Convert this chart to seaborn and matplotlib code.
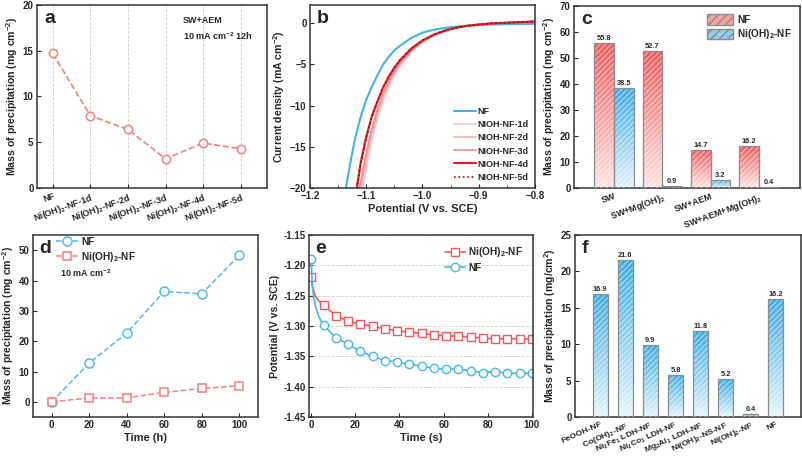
import numpy as np
import pandas as pd
import seaborn as sns
import matplotlib.pyplot as plt
from matplotlib.colors import LinearSegmentedColormap
from matplotlib.patches import Rectangle, Patch

# ---- data -------------------------------------------------------------
# (a) precipitation vs growth time, SW+AEM
a_samples = ['NF', r'Ni(OH)$_2$-NF-1d', r'Ni(OH)$_2$-NF-2d', r'Ni(OH)$_2$-NF-3d',
             r'Ni(OH)$_2$-NF-4d', r'Ni(OH)$_2$-NF-5d']
a_mass = [14.7, 7.9, 6.4, 3.2, 4.9, 4.3]

# (b) LSV curves
b_potential = [-1.14, -1.13, -1.12, -1.11, -1.10, -1.09, -1.08, -1.07, -1.06, -1.05,
               -1.04, -1.02, -1.00, -0.98, -0.96, -0.94, -0.92, -0.90, -0.88, -0.85, -0.80]
b_nf = [-21.5, -17.6, -14.0, -11.4, -9.3, -7.7, -6.3, -5.0, -4.1, -3.3,
        -2.75, -1.8, -1.15, -0.8, -0.58, -0.42, -0.3, -0.22, -0.17, -0.12, -0.08]
b_1d = [-30.0, -27.0, -24.0, -21.5, -17.6, -14.2, -11.5, -9.4, -7.7, -6.3,
        -5.2, -3.5, -2.3, -1.5, -0.95, -0.58, -0.33, -0.17, -0.05, 0.05, 0.2]
b_2d = [-29.0, -26.0, -23.0, -20.2, -16.6, -13.4, -10.9, -8.9, -7.3, -6.0,
        -5.0, -3.4, -2.25, -1.45, -0.93, -0.57, -0.32, -0.17, -0.05, 0.05, 0.2]
b_3d = [-28.5, -25.5, -22.5, -19.3, -15.8, -12.8, -10.4, -8.5, -7.0, -5.8,
        -4.8, -3.3, -2.2, -1.42, -0.92, -0.56, -0.32, -0.17, -0.05, 0.05, 0.2]
b_4d = [-28.0, -25.0, -21.5, -17.0, -13.8, -11.3, -9.5, -7.8, -6.5, -5.4,
        -4.5, -3.1, -2.1, -1.4, -0.9, -0.55, -0.32, -0.17, -0.05, 0.05, 0.2]
b_5d = b_4d
b_names = ['NF', 'NIOH-NF-1d', 'NIOH-NF-2d', 'NIOH-NF-3d', 'NIOH-NF-4d', 'NIOH-NF-5d']

# (c) precipitation in different electrolytes
c_conditions = ['SW', r'SW+Mg(OH)$_2$', 'SW+AEM', r'SW+AEM+Mg(OH)$_2$']
c_nf = [55.8, 52.7, 14.7, 16.2]
c_nioh = [38.5, 0.9, 3.2, 0.4]
c_groups = ['NF', r'Ni(OH)$_2$-NF']

# (d) precipitation vs time
d_time = [0, 20, 40, 60, 80, 100]
d_nf = [0.0, 12.8, 22.7, 36.4, 35.6, 48.3]
d_nioh = [0.0, 1.3, 1.3, 3.1, 4.4, 5.3]

# (e) chronopotentiometry
e_time = [0, 0.4, 1, 2, 3.5, 5.6, 11.1, 16.7, 22.2, 27.8, 33.3, 38.9, 44.4, 50.0,
          55.6, 61.1, 66.7, 72.2, 77.8, 83.3, 88.9, 94.4, 100]
e_nioh = [-1.219, -1.232, -1.242, -1.251, -1.259, -1.265, -1.283, -1.292, -1.297, -1.300,
          -1.305, -1.308, -1.310, -1.312, -1.315, -1.316, -1.317, -1.318, -1.320,
          -1.321, -1.321, -1.321, -1.322]
e_nf = [-1.190, -1.228, -1.250, -1.268, -1.285, -1.299, -1.319, -1.330, -1.342, -1.350,
        -1.357, -1.359, -1.363, -1.366, -1.370, -1.371, -1.371, -1.374, -1.377,
        -1.375, -1.378, -1.378, -1.378]
e_marks = [0] + list(range(5, 23))

# (f) different electrodes
f_electrodes = ['FeOOH-NF', r'Co(OH)$_2$-NF', r'Ni$_2$Fe$_1$ LDH-NF', r'Ni$_2$Co$_1$ LDH-NF',
                r'Mg$_2$Al$_1$ LDH-NF', r'Ni(OH)$_2$-NS-NF', r'Ni(OH)$_2$-NF', 'NF']
f_mass = [16.9, 21.6, 9.9, 5.8, 11.8, 5.2, 0.4, 16.2]

# ---- style ------------------------------------------------------------
sns.set_style('ticks')
plt.rcParams['font.family'] = ['Liberation Sans', 'DejaVu Sans']
plt.rcParams['font.weight'] = 'bold'
plt.rcParams['axes.labelweight'] = 'bold'
plt.rcParams['mathtext.fontset'] = 'custom'
plt.rcParams['mathtext.rm'] = 'Liberation Sans:bold'
plt.rcParams['mathtext.it'] = 'Liberation Sans:bold'
plt.rcParams['mathtext.bf'] = 'Liberation Sans:bold'
plt.rcParams['axes.edgecolor'] = '#333333'
plt.rcParams['axes.linewidth'] = 1.1
plt.rcParams['xtick.direction'] = 'in'
plt.rcParams['ytick.direction'] = 'in'
plt.rcParams['xtick.labelsize'] = 7
plt.rcParams['ytick.labelsize'] = 7
plt.rcParams['axes.labelsize'] = 8
plt.rcParams['axes.labelpad'] = 2
plt.rcParams['xtick.major.size'] = 3
plt.rcParams['ytick.major.size'] = 3
plt.rcParams['xtick.major.pad'] = 2.5
plt.rcParams['ytick.major.pad'] = 2.5

RED = '#f47f7f'
BLUE = '#4dbdf0'
YLAB = 7.6

W, H = 803, 461
fig = plt.figure(figsize=(W / 100, H / 100), dpi=100)


def box(l, t, r, b):
    return fig.add_axes([l / W, 1 - b / H, (r - l) / W, (b - t) / H])


def letter(ax, s):
    ax.text(0.03, 0.97, s, transform=ax.transAxes, fontsize=14, fontweight='bold',
            va='top', ha='left')


def gradient_bars(ax, container, c_top, c_bot):
    cmap = LinearSegmentedColormap.from_list('g', [c_bot, c_top])
    for bar in container:
        x0, y0 = bar.get_x(), bar.get_y()
        w, h = bar.get_width(), bar.get_height()
        img = ax.imshow(np.linspace(0, 1, 64).reshape(-1, 1), cmap=cmap, origin='lower',
                        extent=[x0, x0 + w, y0, y0 + h], aspect='auto', zorder=2)
        img.set_clip_path(bar)
        ax.add_patch(Rectangle((x0, y0), w, h, facecolor='none', edgecolor=(1, 1, 1, 0.45),
                               hatch='//////', lw=0, zorder=3))
        bar.set_facecolor('none')
        bar.set_edgecolor('#8c8c8c')
        bar.set_linewidth(0.9)
        bar.set_zorder(4)


# ---- (a) --------------------------------------------------------------
ax = box(37, 5, 267, 188)
xa = np.arange(len(a_samples))
sns.lineplot(x=xa, y=a_mass, ax=ax, color=RED, linestyle='--', lw=1.2, marker='o',
             markersize=6, markerfacecolor='white', markeredgecolor=RED, markeredgewidth=1.1)
for x in xa:
    ax.axvline(x, color='#cccccc', ls='--', lw=0.6, zorder=0)
ax.set_xlim(-0.42, 5.7)
ax.set_ylim(0, 20)
ax.set_yticks([0, 5, 10, 15, 20])
ax.set_xticks(xa)
ax.set_xticklabels(a_samples, rotation=20, ha='right', rotation_mode='anchor', fontsize=6.5)
ax.set_ylabel(r'Mass of precipitation (mg cm$^{-2}$)', fontsize=YLAB)
ax.text(0.635, 0.94, 'SW+AEM', transform=ax.transAxes, fontsize=6.5, va='top')
ax.text(0.635, 0.86, r'10 mA cm$^{-2}$ 12h', transform=ax.transAxes, fontsize=6.5, va='top')
letter(ax, 'a')

# ---- (b) --------------------------------------------------------------
ax = box(310, 5, 535, 188)
b_series = [b_nf, b_1d, b_2d, b_3d, b_4d, b_5d]
b_colors = ['#3fb2ea', '#fbc9cc', '#f8aeb1', '#f38a8d', '#d8232a', '#b30000']
b_styles = ['-', '-', '-', '-', '-', ':']
b_widths = [1.5, 1.2, 1.2, 1.2, 1.6, 1.2]
for ys, name, c, ls, lw in zip(b_series, b_names, b_colors, b_styles, b_widths):
    sns.lineplot(x=b_potential, y=ys, ax=ax, color=c, linestyle=ls, lw=lw, label=name)
ax.set_xlim(-1.2, -0.8)
ax.set_ylim(-20, 2.2)
ax.set_xticks([-1.2, -1.1, -1.0, -0.9, -0.8])
ax.set_xticks([-1.15, -1.05, -0.95, -0.85], minor=True)
ax.tick_params(which='minor', direction='in', length=2)
ax.set_yticks([0, -5, -10, -15, -20])
ax.set_xlabel('Potential (V vs. SCE)')
ax.set_ylabel(r'Current density (mA cm$^{-2}$)', fontsize=YLAB)
ax.legend(loc='lower right', frameon=False, fontsize=6.5, handlelength=2.4,
          labelspacing=0.45, borderaxespad=0.3, handletextpad=0.2)
letter(ax, 'b')

# ---- (c) --------------------------------------------------------------
ax = box(574, 6, 800, 188)
c_df = pd.DataFrame({
    'condition': c_conditions * 2,
    'mass': c_nf + c_nioh,
    'sample': [c_groups[0]] * 4 + [c_groups[1]] * 4,
})
sns.barplot(data=c_df, x='condition', y='mass', hue='sample', hue_order=c_groups,
            ax=ax, width=0.82, legend=False, errorbar=None)
gradient_bars(ax, ax.containers[0], '#f0585a', '#fde3e3')
gradient_bars(ax, ax.containers[1], '#3aa9e2', '#e2f4fc')
for cont in ax.containers:
    ax.bar_label(cont, fmt='%.1f', fontsize=5.3, padding=0.5)
ax.set_xlim(-0.83, 3.85)
ax.set_ylim(0, 70)
ax.set_yticks(range(0, 71, 10))
ax.set_xlabel('')
ax.set_ylabel(r'Mass of precipitation (mg cm$^{-2}$)', fontsize=YLAB)
ax.set_xticks(range(4))
ax.set_xticklabels(c_conditions, rotation=20, ha='right', rotation_mode='anchor', fontsize=6.5)
c_handles = [Patch(facecolor='#f7a0a0', edgecolor='#8c8c8c', hatch='////'),
             Patch(facecolor='#8fd0f0', edgecolor='#8c8c8c', hatch='////')]
ax.legend(c_handles, c_groups, loc='upper right', frameon=False, fontsize=7.3,
          handlelength=2.6, handleheight=1.2, labelspacing=0.25, borderaxespad=0.4,
          handletextpad=0.4)
letter(ax, 'c')

# ---- (d) --------------------------------------------------------------
ax = box(33, 235, 258, 417)
sns.lineplot(x=d_time, y=d_nf, ax=ax, color=BLUE, linestyle='--', lw=1.1, marker='o',
             markersize=6.5, markerfacecolor='white', markeredgecolor=BLUE,
             markeredgewidth=1.1, label='NF')
sns.lineplot(x=d_time, y=d_nioh, ax=ax, color=RED, linestyle='--', lw=1.1, marker='s',
             markersize=5.5, markerfacecolor='white', markeredgecolor=RED,
             markeredgewidth=1.1, label=r'Ni(OH)$_2$-NF')
ax.set_xlim(-10, 110)
ax.set_ylim(-5, 55)
ax.set_xticks(d_time)
ax.set_yticks([0, 10, 20, 30, 40, 50])
ax.set_xlabel('Time (h)')
ax.set_ylabel(r'Mass of precipitation (mg cm$^{-2}$)', fontsize=YLAB)
ax.legend(loc='upper left', bbox_to_anchor=(0.06, 1.04), frameon=False, fontsize=7.3,
          handlelength=2.2, labelspacing=0.3, handletextpad=0.3)
ax.text(0.12, 0.77, r'10 mA cm$^{-2}$', transform=ax.transAxes, fontsize=6.5)
letter(ax, 'd')

# ---- (e) --------------------------------------------------------------
ax = box(309, 235, 533, 417)
E_RED = '#f0595b'
E_BLUE = '#45b7ea'
sns.lineplot(x=e_time, y=e_nioh, ax=ax, color=E_RED, lw=1.2, marker='s', markevery=e_marks,
             markersize=5.5, markerfacecolor='white', markeredgecolor=E_RED,
             markeredgewidth=1.0, label=r'Ni(OH)$_2$-NF')
sns.lineplot(x=e_time, y=e_nf, ax=ax, color=E_BLUE, lw=1.2, marker='o', markevery=e_marks,
             markersize=6, markerfacecolor='white', markeredgecolor=E_BLUE,
             markeredgewidth=1.0, label='NF')
ax.set_xlim(-1, 100.5)
ax.set_ylim(-1.45, -1.15)
yt = [-1.45, -1.40, -1.35, -1.30, -1.25, -1.20, -1.15]
ax.set_yticks(yt)
ax.set_yticklabels([f'{v:.2f}' for v in yt])
ax.set_xticks([0, 20, 40, 60, 80, 100])
ax.yaxis.grid(True, ls='--', color='#cccccc', lw=0.6)
ax.set_axisbelow(True)
ax.set_xlabel('Time (s)')
ax.set_ylabel('Potential (V vs. SCE)', fontsize=YLAB)
ax.legend(loc='upper right', frameon=False, fontsize=7.3, handlelength=2.0,
          labelspacing=0.35, handletextpad=0.3, borderaxespad=0.6)
letter(ax, 'e')

# ---- (f) --------------------------------------------------------------
ax = box(575, 235, 801, 417)
sns.barplot(x=f_electrodes, y=f_mass, ax=ax, width=0.6, errorbar=None, color=BLUE)
gradient_bars(ax, ax.containers[0], '#3caae3', '#e4f5fc')
ax.bar_label(ax.containers[0], fmt='%.1f', fontsize=5.3, padding=0.5)
ax.set_xlim(-1.0, 8.0)
ax.set_ylim(0, 25)
ax.set_yticks([0, 5, 10, 15, 20, 25])
ax.set_xticks(range(len(f_electrodes)))
ax.set_xticklabels(f_electrodes, rotation=24, ha='right', rotation_mode='anchor', fontsize=6.1)
ax.set_ylabel(r'Mass of precipitation (mg/cm$^{2}$)', fontsize=YLAB)
letter(ax, 'f')

fig.savefig('out.png', dpi=100)
